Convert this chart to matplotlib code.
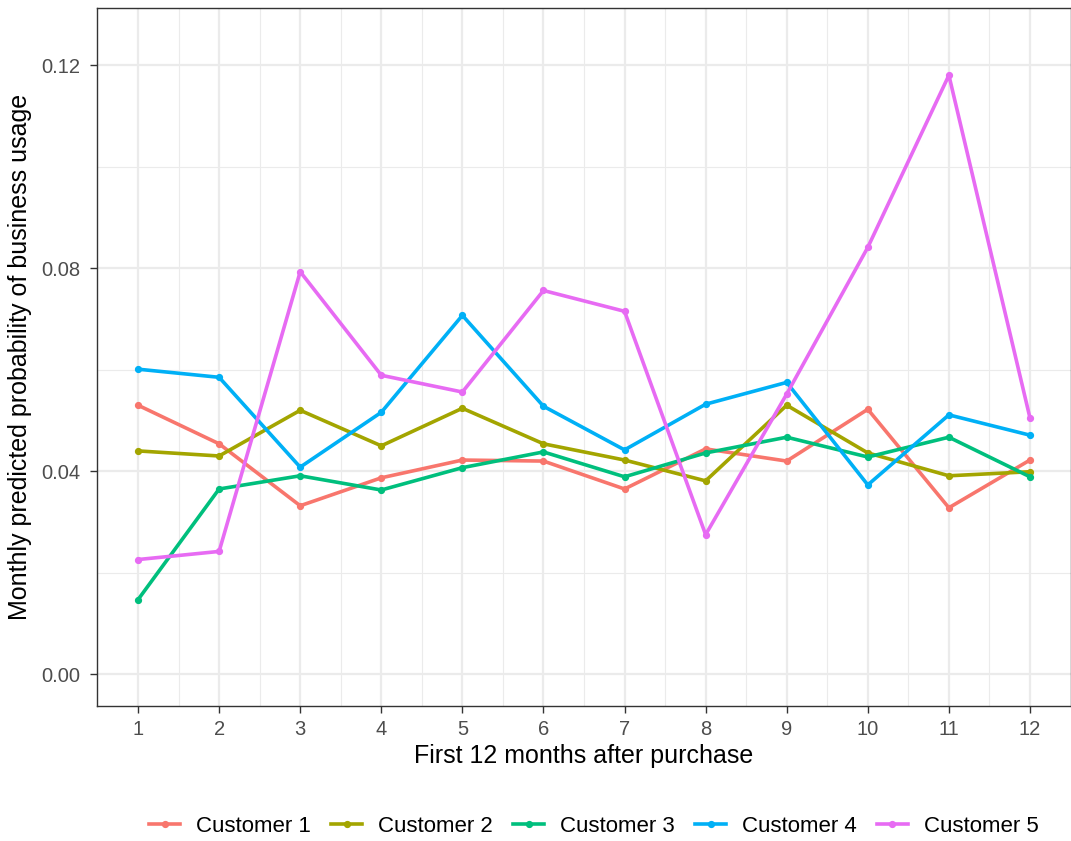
import matplotlib
matplotlib.use("Agg")
from matplotlib import pyplot as plt
import numpy as np

plt.rcParams['font.family'] = ['Liberation Sans', 'DejaVu Sans']

months = list(range(1, 13))
customers = ['Customer 1', 'Customer 2', 'Customer 3', 'Customer 4', 'Customer 5']
colors = ['#F8766D', '#A3A500', '#00BF7D', '#00B0F6', '#E76BF3']

cust1 = [0.0530, 0.0454, 0.0332, 0.0387, 0.0422, 0.0420, 0.0365, 0.0444, 0.0420, 0.0522, 0.0328, 0.0422]
cust2 = [0.0440, 0.0430, 0.0520, 0.0450, 0.0524, 0.0454, 0.0422, 0.0381, 0.0530, 0.0436, 0.0391, 0.0399]
cust3 = [0.0147, 0.0365, 0.0391, 0.0363, 0.0407, 0.0438, 0.0389, 0.0436, 0.0467, 0.0428, 0.0467, 0.0389]
cust4 = [0.0601, 0.0585, 0.0408, 0.0516, 0.0707, 0.0528, 0.0442, 0.0532, 0.0575, 0.0373, 0.0511, 0.0471]
cust5 = [0.0226, 0.0242, 0.0793, 0.0589, 0.0556, 0.0756, 0.0715, 0.0275, 0.0552, 0.0841, 0.1180, 0.0505]
series = [cust1, cust2, cust3, cust4, cust5]

y_ticks = [0.00, 0.04, 0.08, 0.12]
y_labels = ['0.00', '0.04', '0.08', '0.12']

fig = plt.figure(figsize=(10.71, 8.41), dpi=100)
ax = fig.add_axes([97/1071, 1 - 706/841, (1071 - 97)/1071, (706 - 8)/841])

# grid lines like ggplot theme_bw
for v in [0.02, 0.06, 0.10]:
    ax.axhline(v, color='#EBEBEB', lw=0.8, zorder=0)
for v in y_ticks:
    ax.axhline(v, color='#EBEBEB', lw=1.6, zorder=0)
for m in np.arange(1.5, 12.5, 1):
    ax.axvline(m, color='#EBEBEB', lw=0.8, zorder=0)
for m in months:
    ax.axvline(m, color='#EBEBEB', lw=1.6, zorder=0)

for name, vals, c in zip(customers, series, colors):
    ax.plot(months, vals, color=c, lw=2.6, marker='o', markersize=4.2, label=name, zorder=3)

ax.set_xlim(0.494, 12.506)
ax.set_ylim(-0.00625, 0.13125)
ax.set_xticks(months)
ax.set_xticklabels([str(m) for m in months])
ax.set_yticks(y_ticks)
ax.set_yticklabels(y_labels)
ax.tick_params(axis='both', colors='#333333', labelcolor='#4D4D4D', labelsize=14.5, length=5, width=1)
ax.tick_params(axis='x', pad=5)
ax.tick_params(axis='y', pad=7)
for s in ax.spines.values():
    s.set_color('#333333')
    s.set_linewidth(1)

ax.set_xlabel('First 12 months after purchase', fontsize=18, color='black')
ax.set_ylabel('Monthly predicted probability of business usage', fontsize=18, color='black')
ax.xaxis.set_label_coords(0.5, (706 - 744) / 698)
ax.yaxis.set_label_coords((32 - 97) / 974, 0.5)

fig.legend(loc='center', bbox_to_anchor=(594/1071, 1 - 826/841), ncol=5, frameon=False,
           fontsize=16, handlelength=1.4, columnspacing=0.9, handletextpad=0.72)

fig.savefig('out.png', dpi=100)
